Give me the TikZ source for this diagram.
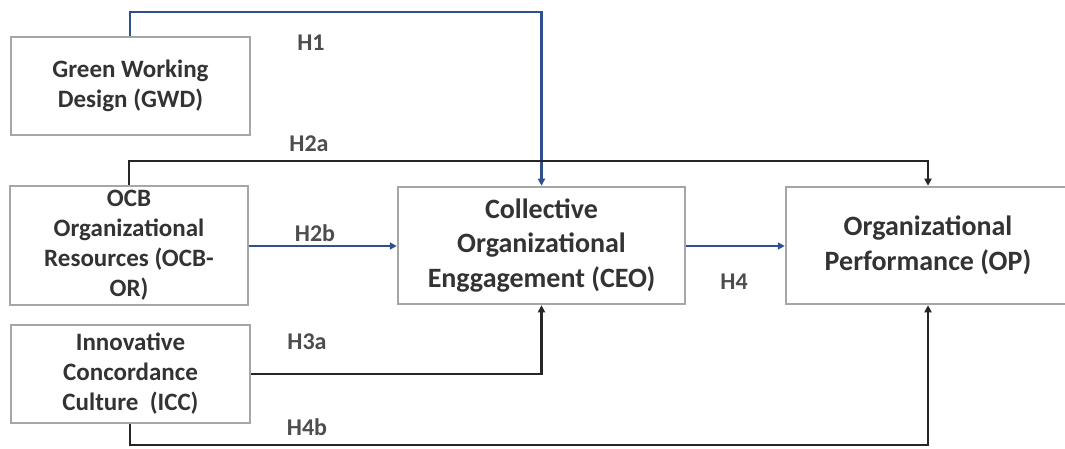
\documentclass[tikz,border=0pt]{standalone}
\usepackage{fontspec}
\setmainfont{Carlito}
\usetikzlibrary{arrows.meta}
\definecolor{boxgray}{HTML}{A6A6A6}
\definecolor{txtgray}{HTML}{333333}
\definecolor{lblgray}{HTML}{4D4D4D}
\definecolor{linkblue}{HTML}{2F4F8F}
\tikzset{
  box/.style={draw=boxgray, line width=2.5pt, fill=white, inner sep=0pt, align=center,
              text=txtgray, font=\bfseries\fontsize{25}{30}\selectfont},
  bigbox/.style={box, font=\bfseries\fontsize{28}{34.5}\selectfont},
  blink/.style={draw=linkblue, line width=2.6pt, -{Triangle[length=7pt,width=7pt]}},
  klink/.style={draw=black!85, line width=2.6pt, -{Triangle[length=7pt,width=7pt]}},
  lbl/.style={text=lblgray, font=\bfseries\fontsize{24}{28}\selectfont, inner sep=0pt}
}
\begin{document}
\begin{tikzpicture}[x=1pt,y=-1pt]
\useasboundingbox (0,0) rectangle (1065,449);
\node[box, minimum width=239pt, minimum height=98pt] (gwd) at (130.5,86) {Green Working\\Design (GWD)};
\node[box, minimum width=238pt, minimum height=119pt] (ocb) at (129,245.5) {OCB\\Organizational\\Resources (OCB-\\OR)};
\node[box, minimum width=239pt, minimum height=98pt] (icc) at (130.5,374) {Innovative\\Concordance\\Culture~ (ICC)};
\node[bigbox, minimum width=287pt, minimum height=117pt] (ceo) at (541.5,245.5) {Collective\\Organizational\\Enggagement (CEO)};
\node[bigbox, minimum width=284pt, minimum height=117pt] (op) at (928,245.5) {Organizational\\Performance (OP)};

\coordinate (h1a) at (130,12);
\coordinate (h1b) at (541.5,12);
\coordinate (h2a) at (129,161);
\coordinate (h2b) at (928,161);
\coordinate (h3) at (541.5,374);
\coordinate (h4a) at (130,445);
\coordinate (h4b) at (928,445);

\draw[blink] (gwd.north -| h1a) -- (h1a) -- (h1b) -- (ceo.north);
\draw[klink] (ocb.north -| h2a) -- (h2a) -- (h2b) -- (op.north);
\draw[blink] (ocb.east |- 0,246) -- (ceo.west |- 0,246);
\draw[blink] (ceo.east |- 0,246) -- (op.west |- 0,246);
\draw[klink] (icc.east) -- (h3) -- (ceo.south);
\draw[klink] (icc.south -| h4a) -- (h4a) -- (h4b) -- (op.south);

\node[lbl] (l1) at (311,43) {H1};
\node[lbl] (l2a) at (309,144) {H2a};
\node[lbl] (l2b) at (315,233) {H2b};
\node[lbl] (l3a) at (307,342) {H3a};
\node[lbl] (l4) at (734,282) {H4};
\node[lbl] (l4b) at (307,427) {H4b};
\end{tikzpicture}
\end{document}
